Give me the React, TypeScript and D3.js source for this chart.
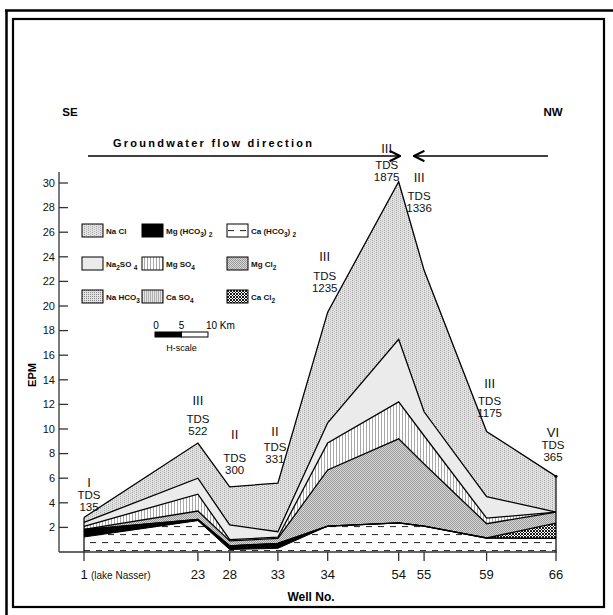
import * as d3 from "d3";

const wells = ["1", "23", "28", "33", "34", "54", "55", "59", "66"];
const distanceKm = [0, 21.5, 27.5, 36.6, 46, 59.4, 64.2, 76, 89.1];

// hypothetical salts in EPM at every well (stacked bottom -> top)
const caHCO3 = [1.22, 2.55, 0.2, 0.3, 2.1, 2.36, 2.1, 1.14, 1.1];
const mgHCO3 = [0.57, 0.1, 0.3, 0.4, 0, 0, 0, 0, 0];
const caCl2 = [0.05, 0, 0, 0, 0, 0, 0, 0, 1.25];
const mgCl2 = [0, 0.68, 0.4, 0.4, 4.57, 6.84, 5.05, 1.16, 0.9];
const mgSO4 = [0.25, 1.37, 0.1, 0.1, 2.19, 3.0, 2.3, 0.45, 0];
const na2SO4 = [0.32, 1.3, 1.2, 0.45, 1.64, 5.1, 1.95, 1.75, 0];
const naCl = [0.4, 2.86, 3.1, 3.95, 9.0, 12.8, 11.5, 5.3, 2.9];

const waterType = ["I", "III", "II", "II", "III", "III", "III", "III", "VI"];
const tds = [135, 522, 300, 331, 1235, 1875, 1336, 1175, 365];

const yTicks = [2, 4, 6, 8, 10, 12, 14, 16, 18, 20, 22, 24, 26, 28, 30];

const layers = [
  { key: "CaHCO3", values: caHCO3, fill: "url(#p-cahco3)" },
  { key: "MgHCO3", values: mgHCO3, fill: "#000" },
  { key: "CaCl2", values: caCl2, fill: "url(#p-cacl2)" },
  { key: "MgCl2", values: mgCl2, fill: "url(#p-mgcl2)" },
  { key: "MgSO4", values: mgSO4, fill: "url(#p-mgso4)" },
  { key: "Na2SO4", values: na2SO4, fill: "#ebebeb" },
  { key: "NaCl", values: naCl, fill: "url(#p-nacl)" },
];

// legend text pieces: [text, isSubscript]
const legendItems: { parts: [string, boolean][]; fill: string }[] = [
  { parts: [["Na Cl", false]], fill: "url(#p-nacl)" },
  { parts: [["Mg (HCO", false], ["3", true], [") ", false], ["2", true]], fill: "#000" },
  { parts: [["Ca (HCO", false], ["3", true], [") ", false], ["2", true]], fill: "url(#p-cahco3)" },
  { parts: [["Na", false], ["2", true], ["SO ", false], ["4", true]], fill: "#ebebeb" },
  { parts: [["Mg SO", false], ["4", true]], fill: "url(#p-mgso4)" },
  { parts: [["Mg Cl", false], ["2", true]], fill: "url(#p-mgcl2)" },
  { parts: [["Na HCO", false], ["3", true]], fill: "url(#p-nahco3)" },
  { parts: [["Ca SO", false], ["4", true]], fill: "url(#p-caso4)" },
  { parts: [["Ca Cl", false], ["2", true]], fill: "url(#p-cacl2)" },
];

// layout nudges for the TDS labels: [dx from well, dy of number baseline from stack top, gap to numeral]
const labelNudge = [
  [5, -6, 12], [0, -8, 18], [5, -13, 23], [-3, -20, 15], [-3, -20, 19],
  [-12, -1, 16], [-5, -58, 18], [3, -14, 17], [-3, -15, 12],
];

const FONT = "Arial, 'Liberation Sans', sans-serif";

export default function App() {
  const x = d3.scaleLinear().domain([0, 89.1]).range([84, 556]);
  const y = d3.scaleLinear().domain([0, 30]).range([552, 183]);

  const rows = wells.map((w, i) => {
    const r: any = { well: w };
    layers.forEach((l) => (r[l.key] = l.values[i]));
    return r;
  });
  const series = d3.stack<any>().keys(layers.map((l) => l.key))(rows);
  const totals = series[series.length - 1].map((d) => d[1]);

  const area = d3
    .area<any>()
    .x((d, i) => x(distanceKm[i]))
    .y0((d) => y(d[0]))
    .y1((d) => y(d[1]));
  const line = d3
    .line<any>()
    .x((d, i) => x(distanceKm[i]))
    .y((d) => y(d[1]));

  const x0 = x(0);
  const yBase = y(0);
  const kmPx = x(10) - x(0);
  const barX = 155;
  const xEnd = x(distanceKm[distanceKm.length - 1]);

  return (
    <svg width={613} height={615} style={{ position: "absolute", left: 0, top: 0, background: "#fff" }} fontFamily={FONT}>
      <defs>
        <pattern id="p-nacl" width={4} height={2} patternUnits="userSpaceOnUse">
          <rect width={4} height={2} fill="#e2e2e2" />
          <rect x={0} y={0} width={1} height={1} fill="#a4a4a4" />
          <rect x={2} y={1} width={1} height={1} fill="#bababa" />
        </pattern>
        <pattern id="p-mgso4" width={3} height={3} patternUnits="userSpaceOnUse">
          <rect width={3} height={3} fill="#fff" />
          <rect x={0} width={1} height={3} fill="#a8a8a8" />
        </pattern>
        <pattern id="p-mgcl2" width={2} height={2} patternUnits="userSpaceOnUse">
          <rect width={2} height={2} fill="#d8d8d8" />
          <rect x={0} y={0} width={1} height={1} fill="#9a9a9a" />
          <rect x={1} y={1} width={1} height={1} fill="#9a9a9a" />
        </pattern>
        <pattern id="p-nahco3" width={2} height={2} patternUnits="userSpaceOnUse">
          <rect width={2} height={2} fill="#e2e2e2" />
          <rect x={0} y={0} width={1} height={1} fill="#8a8a8a" />
        </pattern>
        <pattern id="p-caso4" width={2} height={3} patternUnits="userSpaceOnUse">
          <rect width={2} height={3} fill="#e4e4e4" />
          <rect x={0} width={1} height={3} fill="#b0b0b0" />
        </pattern>
        <pattern id="p-cahco3" width={12} height={16} patternUnits="userSpaceOnUse">
          <rect width={12} height={16} fill="#fff" />
          <rect x={0} y={6} width={6} height={1.1} fill="#333" />
          <rect x={6} y={14} width={6} height={1.1} fill="#333" />
        </pattern>
        <pattern id="p-cacl2" width={3} height={3} patternUnits="userSpaceOnUse">
          <rect width={3} height={3} fill="#fff" />
          <path d="M0,0L3,3M3,0L0,3" stroke="#000" strokeWidth={0.9} />
        </pattern>
        <marker id="arrow" viewBox="0 0 10 10" refX={9} refY={5} markerWidth={10} markerHeight={10} orient="auto-start-reverse">
          <path d="M1,1L9,5L1,9" fill="none" stroke="#000" strokeWidth={1.6} />
        </marker>
      </defs>

      {/* frame */}
      <path d="M5,10.5H613M6.5,10V615" stroke="#000" strokeWidth={2.5} fill="none" />
      <rect x={13} y={19} width={591} height={588} fill="none" stroke="#000" strokeWidth={2.2} />

      {/* stacked salt layers */}
      {series.map((s, i) => (
        <path key={s.key} d={area(s) || ""} fill={layers[i].fill} stroke="none" />
      ))}
      {series.map((s) => (
        <path key={"l" + s.key} d={line(s) || ""} fill="none" stroke="#000" strokeWidth={s.key === "CaHCO3" ? 1 : 1.3} />
      ))}
      <line x1={x0} x2={x0} y1={yBase} y2={y(totals[0])} stroke="#000" strokeWidth={1.2} />
      <line x1={xEnd} x2={xEnd} y1={yBase} y2={y(totals[totals.length - 1])} stroke="#000" strokeWidth={1.2} />
      <circle cx={xEnd} cy={y(totals[totals.length - 1])} r={1.5} fill="#000" />

      {/* y axis */}
      <line x1={59} x2={59} y1={yBase} y2={y(30.9)} stroke="#333" strokeWidth={1.3} />
      {yTicks.map((t) => (
        <g key={t}>
          <line x1={59} x2={68} y1={y(t)} y2={y(t)} stroke="#333" strokeWidth={1.3} />
          <text x={55} y={y(t)} dy="0.35em" textAnchor="end" fontSize={11} fill="#111">
            {t}
          </text>
        </g>
      ))}
      <text transform={`translate(36,375) rotate(-90)`} textAnchor="middle" fontSize={11} fontWeight="bold">
        EPM
      </text>

      {/* x axis */}
      <line x1={59} x2={xEnd + 1} y1={yBase} y2={yBase} stroke="#333" strokeWidth={1.3} />
      {wells.map((w, i) => (
        <g key={w}>
          <line x1={x(distanceKm[i])} x2={x(distanceKm[i])} y1={yBase} y2={yBase + 9} stroke="#333" strokeWidth={1.3} />
          <text x={x(distanceKm[i])} y={yBase + 27} textAnchor="middle" fontSize={13} fill="#111">
            {w}
          </text>
        </g>
      ))}
      <text x={x(0) + 7} y={yBase + 27} fontSize={10} fill="#111">
        (lake Nasser)
      </text>
      <text x={311} y={601} textAnchor="middle" fontSize={12} fontWeight="bold">
        Well No.
      </text>

      {/* water type / TDS labels */}
      {wells.map((w, i) => {
        const [dx, dy, gap] = labelNudge[i];
        const cx = x(distanceKm[i]) + dx;
        const nb = y(totals[i]) + dy;
        return (
          <g key={"t" + w} textAnchor="middle" fill="#111">
            <text x={cx} y={nb - 12 - gap} fontSize={13}>
              {waterType[i]}
            </text>
            <text x={cx} y={nb - 12} fontSize={11.5}>
              TDS
            </text>
            <text x={cx} y={nb} fontSize={11.5}>
              {tds[i]}
            </text>
          </g>
        );
      })}

      {/* direction */}
      <text x={70} y={116} textAnchor="middle" fontSize={11.5} fontWeight="bold">
        SE
      </text>
      <text x={553} y={116} textAnchor="middle" fontSize={11.5} fontWeight="bold">
        NW
      </text>
      <text x={113} y={147} fontSize={11} fontWeight="bold" textLength={199} lengthAdjust="spacing">
        Groundwater flow direction
      </text>
      <line x1={88} x2={400} y1={156} y2={156} stroke="#000" strokeWidth={1.3} markerEnd="url(#arrow)" />
      <line x1={548} x2={414} y1={156} y2={156} stroke="#000" strokeWidth={1.3} markerEnd="url(#arrow)" />

      {/* legend */}
      {legendItems.map((it, i) => {
        const col = i % 3;
        const row = Math.floor(i / 3);
        const bx = [82, 142, 227][col];
        const by = 224 + row * 33;
        return (
          <g key={"lg" + i}>
            <rect x={bx} y={by} width={21} height={13} fill={it.fill} stroke="#000" strokeWidth={1} />
            <text x={bx + 24} y={by + 10} fontSize={8} fontWeight="bold" fill="#111">
              {it.parts.map(([t, sub], j) => (
                <tspan key={j} fontSize={sub ? 6.5 : 8} dy={sub ? 2.5 : j > 0 && it.parts[j - 1][1] ? -2.5 : 0}>
                  {t}
                </tspan>
              ))}
            </text>
          </g>
        );
      })}

      {/* H-scale */}
      <rect x={barX} y={332} width={kmPx / 2} height={5} fill="#000" stroke="#000" strokeWidth={1} />
      <rect x={barX + kmPx / 2} y={332} width={kmPx / 2} height={5} fill="#fff" stroke="#000" strokeWidth={1} />
      <text x={barX + 1} y={329} textAnchor="middle" fontSize={10}>
        0
      </text>
      <text x={barX + kmPx / 2} y={329} textAnchor="middle" fontSize={10}>
        5
      </text>
      <text x={barX + kmPx - 2} y={329} fontSize={10}>
        10 Km
      </text>
      <text x={barX + kmPx / 2} y={351} textAnchor="middle" fontSize={9}>
        H-scale
      </text>
    </svg>
  );
}
